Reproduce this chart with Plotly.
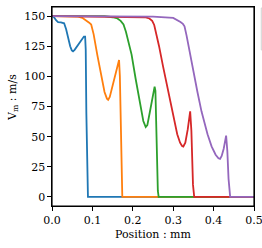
import plotly.graph_objects as go

# Data (x in mm, v in m/s)
blue_x = [0, 0.005, 0.010, 0.015, 0.022, 0.030, 0.035, 0.040, 0.045, 0.049, 0.052, 0.056, 0.062, 0.068, 0.074, 0.079, 0.082, 0.0835, 0.085, 0.087, 0.089, 0.095, 0.5]
blue_v = [150, 149, 146.5, 145, 144.8, 144, 139, 131, 125, 121.5, 120.8, 122, 125, 128, 131, 133, 133, 122, 70, 15, 0, 0, 0]

orange_x = [0, 0.05, 0.065, 0.075, 0.085, 0.092, 0.097, 0.103, 0.112, 0.122, 0.130, 0.136, 0.139, 0.143, 0.150, 0.157, 0.163, 0.166, 0.168, 0.170, 0.172, 0.174, 0.18, 0.5]
orange_v = [150, 150, 149.5, 148.5, 146.5, 144.5, 143, 135, 118, 99, 87, 81.5, 80.5, 83, 92, 103, 111, 113.5, 100, 55, 15, 0, 0, 0]

green_x = [0, 0.13, 0.150, 0.162, 0.170, 0.177, 0.183, 0.190, 0.197, 0.207, 0.217, 0.226, 0.232, 0.236, 0.242, 0.249, 0.254, 0.256, 0.258, 0.260, 0.262, 0.264, 0.27, 0.5]
green_v = [150, 150, 149, 148, 146, 143, 137, 128, 118, 98, 78, 63, 58, 59.5, 70, 82, 91.5, 88, 60, 25, 5, 0, 0, 0]

red_x = [0, 0.20, 0.230, 0.241, 0.248, 0.253, 0.258, 0.265, 0.275, 0.285, 0.295, 0.303, 0.310, 0.317, 0.322, 0.325, 0.330, 0.336, 0.342, 0.345, 0.347, 0.349, 0.352, 0.36, 0.5]
red_v = [150, 149.5, 149, 148, 146, 142.6, 136, 125, 108, 92, 75, 62, 52, 45, 42.2, 41.8, 45, 56, 71, 55, 30, 10, 0, 0, 0]

purple_x = [0, 0.25, 0.300, 0.311, 0.318, 0.324, 0.328, 0.333, 0.340, 0.350, 0.360, 0.370, 0.377, 0.385, 0.395, 0.405, 0.412, 0.416, 0.420, 0.425, 0.431, 0.434, 0.437, 0.439, 0.441, 0.45, 0.5]
purple_v = [150, 149.5, 148.5, 146.7, 145, 143.5, 141.5, 134, 121, 104, 87, 71, 61.6, 52, 42, 35, 32, 31.5, 34, 40, 50.8, 38, 15, 4, 0, 0, 0]

series = [
    ("blue", blue_x, blue_v, "#1f77b4"),
    ("orange", orange_x, orange_v, "#ff7f0e"),
    ("green", green_x, green_v, "#2ca02c"),
    ("red", red_x, red_v, "#d62728"),
    ("purple", purple_x, purple_v, "#9467bd"),
]

x_ticks = [0.0, 0.1, 0.2, 0.3, 0.4, 0.5]
y_ticks = [0, 25, 50, 75, 100, 125, 150]

FONT = "DejaVu Serif"

fig = go.Figure()
for name, xs, vs, col in series:
    fig.add_trace(go.Scatter(x=xs, y=vs, mode="lines", name=name,
                             line=dict(color=col, width=1.8), showlegend=False))

axis_common = dict(
    showgrid=False, zeroline=False, showline=True, linecolor="black",
    linewidth=1.2, mirror=True, ticks="outside", ticklen=3.5, tickwidth=1,
    tickcolor="black", tickfont=dict(family=FONT, size=11, color="black"),
    automargin=False, ticklabeloverflow="allow",
)
fig.update_xaxes(range=[0, 0.5], tickvals=x_ticks, tickformat=".1f", **axis_common)
fig.update_yaxes(range=[-7.5, 157.5], tickvals=y_ticks, **axis_common)

fig.add_annotation(text="Position : mm", xref="paper", yref="paper",
                   x=0.5, y=-0.141, xanchor="center", yanchor="middle",
                   showarrow=False, font=dict(family=FONT, size=11, color="black"))
fig.add_annotation(text="V<sub>m</sub> : m/s", xref="paper", yref="paper",
                   x=-0.196, y=0.545, xanchor="center", yanchor="middle",
                   textangle=-90, showarrow=False,
                   font=dict(family=FONT, size=11, color="black"))

# plot frame (all four spines)
fig.add_shape(type="rect", xref="paper", yref="paper",
              x0=0, x1=1, y0=0, y1=1, layer="above",
              line=dict(color="black", width=1.2))

# partially visible legend frame at the right edge
fig.add_shape(type="rect", xref="paper", yref="paper",
              x0=1.036, x1=1.4, y0=0.784, y1=0.995,
              line=dict(color="#d0d0d0", width=1), fillcolor="white")

fig.update_layout(
    template="none",
    autosize=False,
    width=262, height=248,
    margin=dict(l=52, r=8, t=7, b=42, pad=0),
    plot_bgcolor="white", paper_bgcolor="white",
)

fig.write_html(
    "out.html",
    config={"responsive": False, "displayModeBar": False},
    post_script="document.body.style.margin='0';document.body.style.overflow='hidden';",
)
